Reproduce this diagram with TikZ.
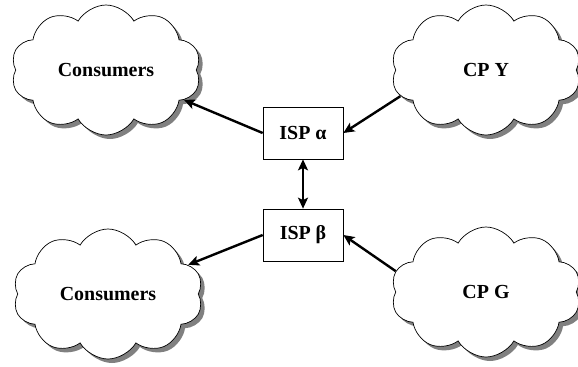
\documentclass[tikz,border=0pt]{standalone}
\usepackage{fontspec}
\setmainfont{Liberation Serif}
\usetikzlibrary{shapes.symbols, arrows.meta}

\begin{document}
\begin{tikzpicture}[x=1bp, y=-1bp]
\tikzstyle{every node} = [font=\fontsize{20}{24}\selectfont\bfseries]
\tikzstyle{net} = [cloud, cloud puffs=10, cloud puff arc=120, aspect=1.45, draw, line width=0.7bp, fill=white,
  minimum width=190bp, minimum height=130bp, inner sep=0pt,
  preaction={fill=black!50, transform canvas={xshift=4bp, yshift=-4bp}}]
\tikzstyle{isp} = [rectangle, draw, line width=0.7bp, minimum width=80bp, minimum height=52bp, fill=white]
\tikzstyle{link} = [line width=2.4bp, -{Stealth[length=11bp, width=10bp, inset=2.5bp]}]
\tikzstyle{peer} = [line width=2.4bp, {Stealth[length=11bp, width=10bp, inset=2.5bp]}-{Stealth[length=11bp, width=10bp, inset=2.5bp]}]
\useasboundingbox (0,0) rectangle (578,366);
\node[net] (ua) at (106, 70) {Consumers};
\node[net] (cy) at (486, 70) {CP Y};
\node[net] (ub) at (108, 294) {Consumers};
\node[net] (cg) at (486, 292) {CP G};
\node[isp] (alpha) at (303, 133) {ISP α};
\node[isp] (beta) at (303, 235) {ISP β};
\foreach \from/\to in {alpha.west/ua.-21, cy.197/alpha.east, beta.west/ub.20, cg.167/beta.east}
\draw [link] (\from) -- (\to);
\draw [peer] (alpha) -- (beta);
\end{tikzpicture}
\end{document}
